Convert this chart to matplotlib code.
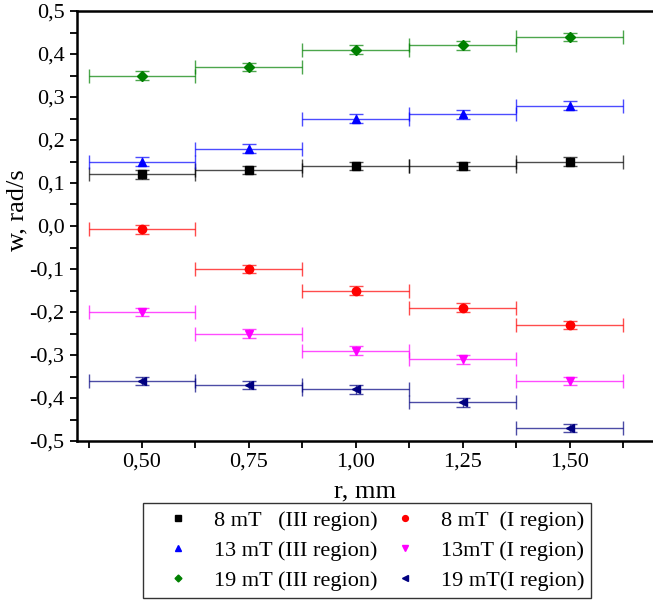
import numpy as np
import matplotlib
matplotlib.use('Agg')
import matplotlib.pyplot as plt
from matplotlib.ticker import FuncFormatter, MultipleLocator, FixedLocator

plt.rcParams['font.family'] = ['Liberation Serif', 'DejaVu Serif']

r = [0.50, 0.75, 1.00, 1.25, 1.50]
r_err = 0.125
w_err = 0.01

w_8_III = [0.12, 0.13, 0.14, 0.14, 0.15]
w_8_I = [-0.008, -0.10, -0.15, -0.19, -0.23]
w_13_III = [0.15, 0.18, 0.25, 0.26, 0.28]
w_13_I = [-0.20, -0.25, -0.29, -0.31, -0.36]
w_19_III = [0.35, 0.37, 0.41, 0.42, 0.44]
w_19_I = [-0.36, -0.37, -0.38, -0.41, -0.47]

series = [
    (w_8_III, 's', 'black', '8 mT   (III region)'),
    (w_13_III, '^', '#0000ff', '13 mT (III region)'),
    (w_19_III, 'D', '#008000', '19 mT (III region)'),
    (w_8_I, 'o', '#ff0000', '8 mT  (I region)'),
    (w_13_I, 'v', '#ff00ff', '13mT (I region)'),
    (w_19_I, '<', '#000080', '19 mT(I region)'),
]

fig = plt.figure(figsize=(6.53, 6.04), dpi=100)
ax = fig.add_axes([77 / 653, 163 / 604, 576 / 653, 430 / 604])

handles = []
for w, m, c, lab in series:
    ax.errorbar(r, w, xerr=r_err, yerr=w_err, fmt='none', ecolor=c,
                elinewidth=1.0, capsize=5, capthick=1.0, alpha=0.7)
    ms = 6 if m != 'D' else 5
    h, = ax.plot(r, w, ls='none', marker=m, color=c, ms=ms, label=lab)
    handles.append(h)

ax.set_xlim(0.348, 1.695)
ax.set_ylim(-0.5, 0.5)
ax.xaxis.set_major_locator(FixedLocator([0.5, 0.75, 1.0, 1.25, 1.5]))
ax.xaxis.set_minor_locator(FixedLocator([0.375, 0.625, 0.875, 1.125, 1.375, 1.625]))
ax.yaxis.set_major_locator(MultipleLocator(0.1))
ax.yaxis.set_minor_locator(MultipleLocator(0.05))
ax.xaxis.set_major_formatter(FuncFormatter(lambda v, p: ('%.2f' % v).replace('.', ',')))
ax.yaxis.set_major_formatter(FuncFormatter(lambda v, p: ('%.1f' % (0 if abs(v) < 1e-9 else v)).replace('.', ',')))

ax.tick_params(which='both', direction='out', length=5, width=1.3, labelsize=16)
ax.tick_params(axis='y', pad=4)
ax.spines['right'].set_visible(False)
for s in ['left', 'top', 'bottom']:
    ax.spines[s].set_linewidth(1.8)

ax.set_xlabel('r, mm', fontsize=19, labelpad=6)
ax.set_ylabel('w, rad/s', fontsize=19)
ax.yaxis.set_label_coords(-0.085, 0.537)

leg = fig.legend(handles, [s[3] for s in series],
                 ncol=2, loc='upper left', bbox_to_anchor=(143 / 653, 1 - 503 / 604),
                 borderaxespad=0, fontsize=16, frameon=True, fancybox=False,
                 edgecolor='black', markerscale=0.7, handlelength=2.5,
                 handletextpad=0.35, columnspacing=0.0, borderpad=0.33,
                 labelspacing=0.42)
leg.get_frame().set_linewidth(1.0)

fig.savefig('out.png', dpi=100)
